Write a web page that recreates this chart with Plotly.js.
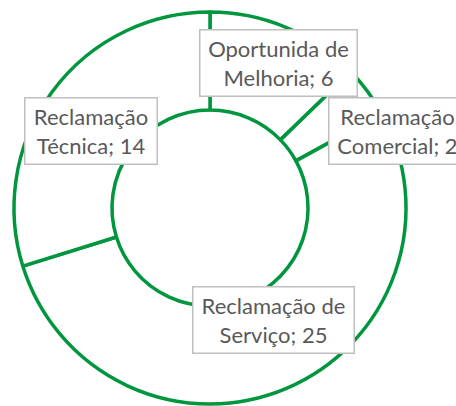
<!DOCTYPE html>
<html>
<head>
<meta charset="utf-8">
<script src="https://cdn.plot.ly/plotly-3.0.1.min.js"></script>
<style>
  html, body { margin: 0; padding: 0; background: #fff; }
  #chart { width: 456px; height: 406px; }
</style>
</head>
<body>
<div id="chart"></div>
<script>
// Dados
var labels = ["Oportunida de Melhoria", "Reclamação Comercial", "Reclamação de Serviço", "Reclamação Técnica"];
var labelLines = [["Oportunida de", "Melhoria"], ["Reclamação", "Comercial"], ["Reclamação de", "Serviço"], ["Reclamação", "Técnica"]];
var values = [6, 2, 25, 14];

// geometria da rosca (px)
var W = 456, H = 406;
var cx = 210, cy = 208, R = 196;
var hole = 0.5;

// ajustes das caixas de rótulo em relação ao meio da fatia
var boxOffset = [[11, -10], [69, 10], [6, -23], [-1, 10]];
var boxSize = [[158, 67], [138, 67], [162, 67], [133, 67]];

var total = values.reduce(function (a, b) { return a + b; }, 0);
var green = "rgb(0,150,62)";

var annotations = [];
var acc = 0;
for (var i = 0; i < values.length; i++) {
  var mid = (acc + values[i] / 2) / total * 2 * Math.PI;
  acc += values[i];
  var rm = R * (1 + hole) / 2;
  var px = cx + rm * Math.sin(mid) + boxOffset[i][0];
  var py = cy - rm * Math.cos(mid) + boxOffset[i][1];
  annotations.push({
    xref: "paper", yref: "paper",
    x: px / W, y: 1 - py / H,
    xanchor: "center", yanchor: "middle",
    text: labelLines[i][0] + "<br>" + labelLines[i][1] + "; " + values[i],
    showarrow: false,
    align: "center",
    font: { family: "Lato, 'Open Sans', sans-serif", size: 22, color: "#595959" },
    bgcolor: "#ffffff",
    bordercolor: "#bfbfbf",
    borderwidth: 1.5,
    width: boxSize[i][0] - 4,
    height: boxSize[i][1] - 4
  });
}

var data = [{
  type: "pie",
  labels: labels,
  values: values,
  hole: hole,
  sort: false,
  direction: "clockwise",
  rotation: 0,
  textinfo: "none",
  hoverinfo: "label+value",
  marker: { colors: ["#fff", "#fff", "#fff", "#fff"], line: { color: green, width: 3.5 } },
  domain: { x: [(cx - R) / W, (cx + R) / W], y: [1 - (cy + R) / H, 1 - (cy - R) / H] }
}];

var layout = {
  width: W, height: H,
  margin: { l: 0, r: 0, t: 0, b: 0 },
  paper_bgcolor: "#fff",
  showlegend: false,
  annotations: annotations
};

Plotly.newPlot("chart", data, layout, { displayModeBar: false, staticPlot: true });
</script>
</body>
</html>
